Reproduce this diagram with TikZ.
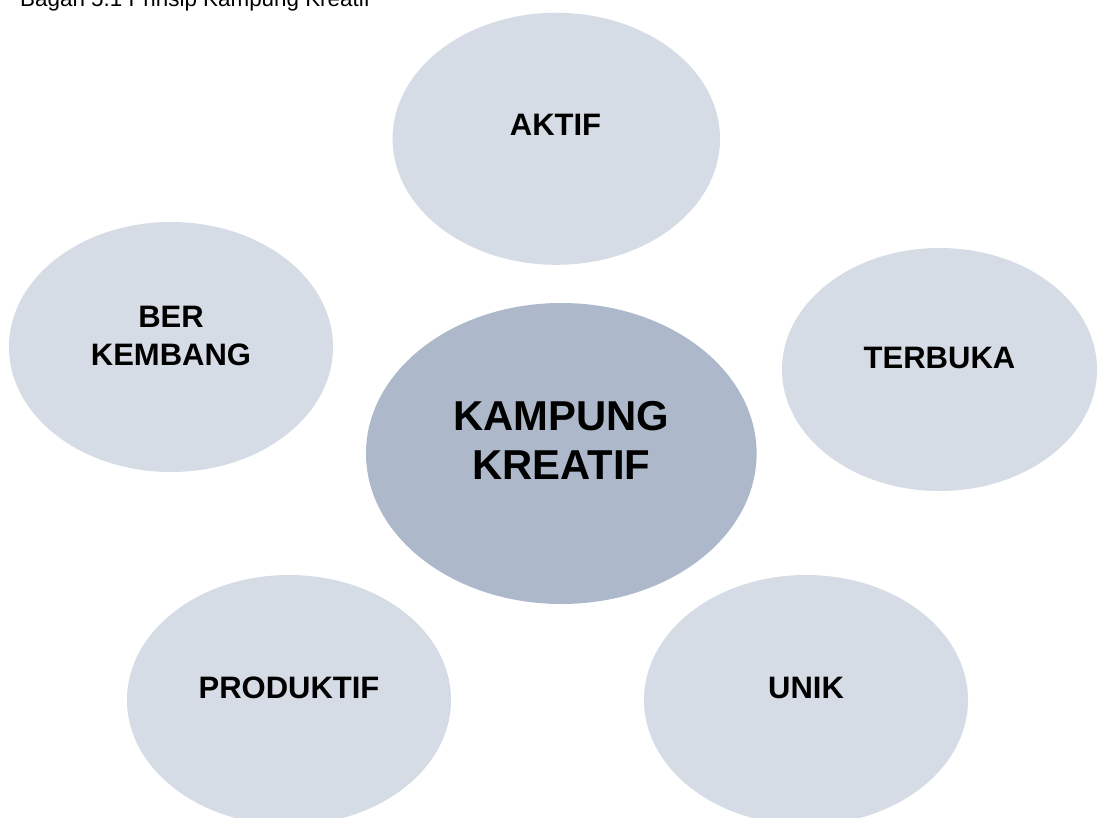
\documentclass[tikz,border=0pt]{standalone}
\usepackage{fontspec}
\setmainfont{Liberation Sans}
\usetikzlibrary{shapes.geometric}
\definecolor{lightblob}{HTML}{D6DCE5}
\definecolor{centerblob}{HTML}{ADB9CA}
\tikzset{
  blob/.style={shape=ellipse, fill=lightblob, draw=none, inner sep=0pt},
  hub/.style={shape=ellipse, fill=centerblob, draw=none, inner sep=0pt},
  lbl/.style={inner sep=0pt, align=center, font=\fontsize{31}{38.4}\selectfont\bfseries},
  hublbl/.style={inner sep=0pt, align=center, font=\fontsize{41.8}{49}\selectfont\bfseries},
}
\begin{document}
\begin{tikzpicture}[x=1pt, y=-1pt]
\useasboundingbox (0,0) rectangle (1099,818);
\fill[white] (0,0) rectangle (1099,818);
% title (cut off at top edge)
\node[anchor=base west, inner sep=0pt, font=\fontsize{22.4}{26}\selectfont] (title) at (20,7) {Bagan 5.1 Prinsip Kampung Kreatif};
% outer ellipses
\node[blob, minimum width=327.4pt, minimum height=252pt] (aktif) at (556.3,138.8) {};
\node[blob, minimum width=324pt, minimum height=250pt] (berkembang) at (171,347) {};
\node[blob, minimum width=315pt, minimum height=243pt] (terbuka) at (939.5,369.5) {};
\node[blob, minimum width=324pt, minimum height=250pt] (produktif) at (289,700) {};
\node[blob, minimum width=324pt, minimum height=250pt] (unik) at (806,700) {};
% center ellipse
\node[hub, minimum width=390.6pt, minimum height=301pt] (kampung) at (561.3,453.5) {};
% labels
\node[lbl] (aktif-t) at (555.5,124.7) {AKTIF};
\node[lbl] (berkembang-t) at (171,335.8) {BER\\KEMBANG};
\node[lbl] (terbuka-t) at (939.5,358.3) {TERBUKA};
\node[lbl] (produktif-t) at (289,688.3) {PRODUKTIF};
\node[lbl] (unik-t) at (806,688) {UNIK};
\node[hublbl] (kampung-t) at (561.5,440.5) {KAMPUNG\\KREATIF};
\end{tikzpicture}
\end{document}
